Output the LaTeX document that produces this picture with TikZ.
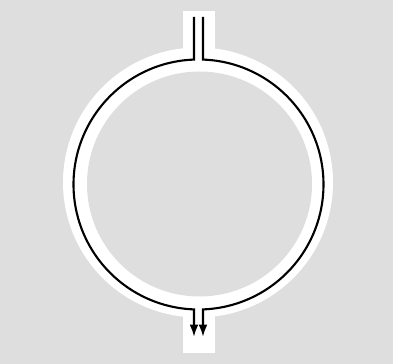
\documentclass[tikz,border=0pt]{standalone}
\usepackage{tikz}
\usetikzlibrary{arrows.meta, calc}
\definecolor{bggray}{RGB}{222,222,222}

\begin{document}
\begin{tikzpicture}[x=0.02cm, y=0.02cm]
% Background
\fill[bggray] (0,0) rectangle (393,364);
\useasboundingbox (0,0) rectangle (393,364);
% White ring and channels
\fill[white] (198,181.5) circle[radius=135];
\fill[white] (183,299) rectangle (215,353);
\fill[white] (183,11) rectangle (215,64);
\fill[bggray] (199.5,180) circle[radius=112.5];
% Flow lines
\coordinate (c) at (198.5,179.5);
\coordinate (inL) at (194,347);
\coordinate (inR) at (203,347);
\coordinate (outL) at (194,27);
\coordinate (outR) at (203,27);
\draw[line width=1.2pt, -{Latex[length=7pt, width=5pt]}]
    (inL) -- ($(c)+(92.06:125)$) arc[start angle=92.06, end angle=267.94, radius=125] -- (outL);
\draw[line width=1.2pt, -{Latex[length=7pt, width=5pt]}]
    (inR) -- ($(c)+(87.94:125)$) arc[start angle=87.94, end angle=-87.94, radius=125] -- (outR);
\end{tikzpicture}
\end{document}
